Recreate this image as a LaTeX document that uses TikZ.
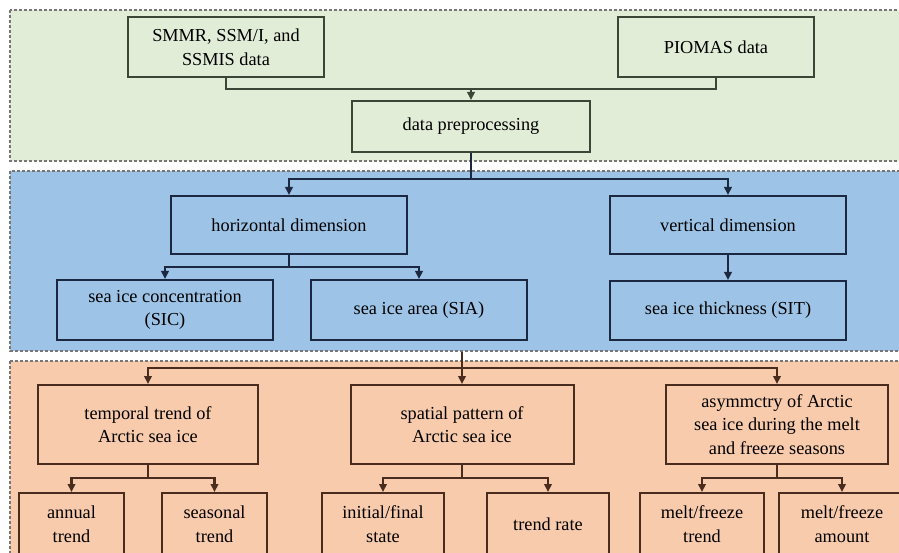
\documentclass[tikz,border=0pt]{standalone}
\usepackage{fontspec}
\setmainfont{Liberation Serif}
\usetikzlibrary{arrows.meta}
\definecolor{pgreen}{HTML}{E2EDD8}
\definecolor{pblue}{HTML}{9DC3E6}
\definecolor{porange}{HTML}{F8CBAD}
\definecolor{bgreen}{HTML}{3B4636}
\definecolor{bblue}{HTML}{1C2841}
\definecolor{borange}{HTML}{4A2C1E}
\definecolor{dashgray}{HTML}{767676}
\tikzset{
  panel/.style={draw=dashgray, line width=1.3pt, dash pattern=on 3pt off 2pt},
  box/.style={draw, line width=2pt, align=center, text=black, font=\fontsize{18.3}{23.5}\selectfont, inner sep=0pt},
  conn/.style={line width=2.3pt},
  arr/.style={conn, -{Triangle[length=8pt,width=7.5pt]}},
}
\begin{document}
\begin{tikzpicture}[x=1pt,y=-1pt]
\useasboundingbox (0,0) rectangle (899,553);
\clip (0,0) rectangle (899,553);
% panels
\fill[white] (0,0) rectangle (899,553);
\draw[panel, fill=pgreen] (10,10) rectangle (910,161);
\draw[panel, fill=pblue] (10,171) rectangle (910,351);
\draw[panel, fill=porange] (10,361) rectangle (910,570);
% green level
\begin{scope}[every node/.style={box, draw=bgreen}]
\node[minimum width=196, minimum height=60] (smmr) at (226,47) {SMMR, SSM/I, and\\SSMIS data};
\node[minimum width=196, minimum height=60] (piomas) at (716,47) {PIOMAS data};
\node[minimum width=238, minimum height=51] (prep) at (471,126.5) {data preprocessing};
\end{scope}
\coordinate (j1) at (471,89);
\draw[conn, bgreen] (smmr.south) |- (j1) -| (piomas.south);
\draw[arr, bgreen] (j1) -- (prep.north);
% blue level
\begin{scope}[every node/.style={box, draw=bblue}]
\node[minimum width=236, minimum height=58] (hor) at (289,225) {horizontal dimension};
\node[minimum width=236, minimum height=58] (ver) at (728,225) {vertical dimension};
\node[minimum width=216, minimum height=60] (sic) at (165,310) {sea ice concentration\\(SIC)};
\node[minimum width=216, minimum height=60] (sia) at (419,310) {sea ice area (SIA)};
\node[minimum width=236, minimum height=59] (sit) at (728,310.5) {sea ice thickness (SIT)};
\end{scope}
\coordinate (j2) at (471,179);
\draw[conn, bblue] (prep.south) -- (j2);
\draw[arr, bblue] (j2) -| (hor.north);
\draw[arr, bblue] (j2) -| (ver.north);
\coordinate (j3) at (289,267);
\draw[conn, bblue] (hor.south) -- (j3);
\draw[arr, bblue] (j3) -| (sic.north);
\draw[arr, bblue] (j3) -| (sia.north);
\draw[arr, bblue] (ver.south) -- (sit.north);
% orange level
\begin{scope}[every node/.style={box, draw=borange}]
\node[minimum width=220, minimum height=79] (temp) at (148,424.5) {temporal trend of\\Arctic sea ice};
\node[minimum width=223, minimum height=79] (spat) at (462,424.5) {spatial pattern of\\Arctic sea ice};
\node[minimum width=222, minimum height=79] (asym) at (777,424.5) {asymmctry of Arctic\\sea ice during the melt\\and freeze seasons};
\node[minimum width=105, minimum height=62] (annual) at (71.5,524) {annual\\trend};
\node[minimum width=105, minimum height=62] (seas) at (214.5,524) {seasonal\\trend};
\node[minimum width=122, minimum height=62] (initf) at (383,524) {initial/final\\state};
\node[minimum width=122, minimum height=62] (trate) at (548,524) {trend rate};
\node[minimum width=124, minimum height=62] (mft) at (702,524) {melt/freeze\\trend};
\node[minimum width=126, minimum height=62] (mfa) at (842,524) {melt/freeze\\amount};
\end{scope}
\coordinate (o0) at (462,352);
\coordinate (j4) at (462,368);
\draw[conn, borange] (o0) -- (j4);
\draw[arr, borange] (j4) -| (temp.north);
\draw[arr, borange] (j4) -- (spat.north);
\draw[arr, borange] (j4) -| (asym.north);
\coordinate (j5) at (148,478);
\draw[conn, borange] (temp.south) -- (j5);
\draw[arr, borange] (j5) -| (annual.north);
\draw[arr, borange] (j5) -| (seas.north);
\coordinate (j6) at (462,478);
\draw[conn, borange] (spat.south) -- (j6);
\draw[arr, borange] (j6) -| (initf.north);
\draw[arr, borange] (j6) -| (trate.north);
\coordinate (j7) at (777,478);
\draw[conn, borange] (asym.south) -- (j7);
\draw[arr, borange] (j7) -| (mft.north);
\draw[arr, borange] (j7) -| (mfa.north);
\end{tikzpicture}
\end{document}
